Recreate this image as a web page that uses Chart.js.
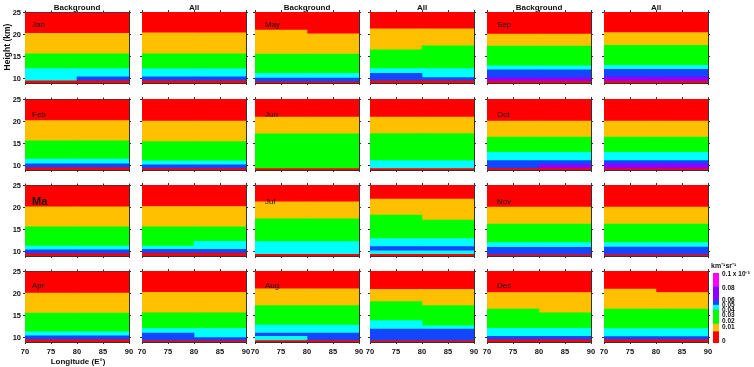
<!DOCTYPE html>
<html>
<head>
<meta charset="utf-8">
<script src="https://cdn.jsdelivr.net/npm/chart.js@4"></script>
<style>
  body { margin: 0; background: #fff; font-family: "Liberation Sans", Arial, sans-serif; }
  #wrap { position: relative; width: 754px; height: 367px; overflow: hidden; }
  canvas { position: absolute; }
  .t { position: absolute; font-weight: bold; white-space: nowrap; color: #111; }
</style>
</head>
<body>
<div id="wrap"></div>
<script>
const xTicks = [70, 75, 80, 85, 90];
const yTicks = [10, 15, 20, 25];
const yMin = 9, yMax = 25;
const halves = ['70-80E', '80-90E'];
const colTitles = ['Background', 'All', 'Background', 'All', 'Background', 'All'];
const rowMonths = [['Jan', 'May', 'Sep'], ['Feb', 'Jun', 'Oct'], ['Ma', 'Jul', 'Nov'], ['Apr', 'Aug', 'Dec']];
const palette = { R: '#ff0000', O: '#ffc000', G: '#00ff00', C: '#00ffff', B: '#1446ff', P: '#8c00ff', M: '#ff00ff' };

// bands from the bottom up: [colour, top west of 80E, top east of 80E] (km)
const janBackground = [['R', 9.5, 9.5], ['B', 9.5, 10.4], ['C', 12.25, 12.25], ['G', 15.6, 15.6], ['O', 20.3, 20.3], ['R', 25, 25]];
const janAll = [['R', 9.5, 9.5], ['B', 10.4, 10.4], ['C', 12.2, 12.2], ['G', 15.6, 15.6], ['O', 20.3, 20.3], ['R', 25, 25]];
const febBackground = [['R', 9.5, 9.5], ['B', 10.4, 10.4], ['C', 11.45, 11.45], ['G', 15.6, 15.6], ['O', 20.2, 20.2], ['R', 25, 25]];
const febAll = [['R', 9.3, 9.3], ['B', 10.15, 10.15], ['C', 11.05, 11.05], ['G', 15.4, 15.4], ['O', 20.0, 20.0], ['R', 25, 25]];
const marBackground = [['R', 9.5, 9.5], ['B', 10.4, 10.4], ['C', 11.25, 11.25], ['G', 15.6, 15.6], ['O', 20.15, 20.15], ['R', 25, 25]];
const marAll = [['R', 9.6, 9.6], ['B', 10.5, 10.5], ['C', 11.25, 12.3], ['G', 15.6, 15.6], ['O', 20.15, 20.15], ['R', 25, 25]];
const aprBackground = [['R', 9.5, 9.5], ['B', 10.4, 10.4], ['C', 11.3, 11.3], ['G', 15.55, 15.55], ['O', 20.1, 20.1], ['R', 25, 25]];
const aprAll = [['R', 9.25, 9.25], ['B', 11.0, 10.0], ['C', 12.05, 12.05], ['G', 15.55, 15.55], ['O', 20.2, 20.2], ['R', 25, 25]];
const mayBackground = [['R', 9.25, 9.25], ['B', 10.1, 10.1], ['C', 11.2, 11.2], ['G', 15.5, 15.5], ['O', 20.95, 20.1], ['R', 25, 25]];
const mayAll = [['R', 9.5, 9.5], ['B', 11.2, 10.2], ['C', 12.25, 12.25], ['G', 16.45, 17.35], ['O', 21.2, 21.2], ['R', 25, 25]];
const junBackground = [['R', 9.3, 9.3], ['G', 17.15, 17.15], ['O', 20.9, 20.9], ['R', 25, 25]];
const junAll = [['R', 9.3, 9.3], ['C', 11.1, 11.1], ['G', 17.2, 17.2], ['O', 20.9, 20.9], ['R', 25, 25]];
const julBackground = [['R', 9.35, 9.35], ['C', 12.25, 12.25], ['G', 17.4, 17.4], ['O', 21.2, 21.2], ['R', 25, 25]];
const julAll = [['R', 9.35, 9.35], ['C', 10.15, 10.15], ['B', 11.1, 11.1], ['C', 12.9, 12.9], ['G', 18.2, 17.1], ['O', 21.8, 21.8], ['R', 25, 25]];
const augBackground = [['R', 9.3, 9.3], ['C', 10.25, 9.3], ['B', 11.0, 11.0], ['C', 12.8, 12.8], ['G', 17.2, 17.2], ['O', 21.0, 21.0], ['R', 25, 25]];
const augAll = [['R', 9.25, 9.25], ['B', 11.9, 11.9], ['C', 13.8, 12.65], ['G', 18.1, 17.2], ['O', 20.85, 20.85], ['R', 25, 25]];
const sepBackground = [['R', 9.4, 9.4], ['P', 10.2, 10.2], ['B', 11.95, 11.95], ['C', 12.85, 12.85], ['G', 17.3, 17.3], ['O', 20.05, 20.05], ['R', 25, 25]];
const sepAll = [['R', 9.4, 9.4], ['P', 10.4, 10.4], ['B', 12.1, 12.1], ['C', 13.0, 13.0], ['G', 17.5, 17.5], ['O', 20.35, 20.35], ['R', 25, 25]];
const octBackground = [['R', 9.3, 9.3], ['P', 9.3, 10.2], ['B', 11.1, 11.1], ['C', 13.0, 13.0], ['G', 16.4, 16.4], ['O', 20.0, 20.0], ['R', 25, 25]];
const octAll = [['R', 9.25, 9.25], ['P', 10.4, 10.4], ['B', 11.1, 11.1], ['C', 13.0, 13.0], ['G', 16.4, 16.4], ['O', 20.0, 20.0], ['R', 25, 25]];
const novBackground = [['R', 9.25, 9.25], ['B', 10.95, 10.95], ['C', 12.0, 12.0], ['G', 16.2, 16.2], ['O', 20.0, 20.0], ['R', 25, 25]];
const novAll = [['R', 9.25, 9.25], ['B', 11.0, 11.0], ['C', 12.0, 12.0], ['G', 16.2, 16.2], ['O', 20.0, 20.0], ['R', 25, 25]];
const decBackground = [['R', 9.5, 9.5], ['B', 10.3, 10.3], ['C', 12.1, 12.1], ['G', 16.4, 15.6], ['O', 20.15, 20.15], ['R', 25, 25]];
const decAll = [['R', 9.5, 9.5], ['B', 10.2, 10.2], ['C', 12.0, 12.0], ['G', 16.4, 16.4], ['O', 20.9, 20.15], ['R', 25, 25]];

const panelBands = [
  [janBackground, janAll, mayBackground, mayAll, sepBackground, sepAll],
  [febBackground, febAll, junBackground, junAll, octBackground, octAll],
  [marBackground, marAll, julBackground, julAll, novBackground, novAll],
  [aprBackground, aprAll, augBackground, augAll, decBackground, decAll]
];

// colour bar: segment colours, segment tops and tick labels along the bar
const colorbarColors = ['R', 'O', 'G', 'C', 'B', 'P', 'M'];
const colorbarTops = [12, 20, 35, 40, 45, 59, 74];
const colorbarTickLabels = ['0', '0.01', '0.02', '0.03', '0.04', '0.05', '0.06', '0.08', '0.1 x 10⁻³'];
const colorbarTickPos = [2, 17, 23, 29, 35, 40, 45, 58, 73];

Chart.defaults.font.family = '"Liberation Sans", Arial, sans-serif';
Chart.defaults.font.weight = 'bold';
Chart.defaults.color = '#111';

const wrap = document.getElementById('wrap');
const colLeft = [25, 142, 255, 370, 487, 604];
const rowTop = [12, 99, 185, 271];
const monthDy = [12, 15, 16, 14];
const W = 104, H = 71;
const L = 26, R = 8, T = 6, B = 20;

function addCanvas(x, y, w, h) {
  const c = document.createElement('canvas');
  c.width = w; c.height = h;
  c.style.left = x + 'px'; c.style.top = y + 'px';
  c.style.width = w + 'px'; c.style.height = h + 'px';
  wrap.appendChild(c);
  return c;
}

function addText(txt, x, y, size, extra) {
  const d = document.createElement('div');
  d.className = 't';
  d.textContent = txt;
  d.style.left = x + 'px'; d.style.top = y + 'px';
  d.style.fontSize = size + 'px';
  if (extra) Object.assign(d.style, extra);
  wrap.appendChild(d);
  return d;
}

function bandDatasets(bands) {
  let prevW = yMin, prevE = yMin;
  return bands.map(([col, topW, topE]) => {
    const ds = {
      data: [topW > prevW ? [prevW, topW] : null, topE > prevE ? [prevE, topE] : null],
      backgroundColor: palette[col]
    };
    prevW = topW; prevE = topE;
    return ds;
  });
}

function edgeAxis(pos, list, min, max, show, size) {
  const horiz = pos === 'top' || pos === 'bottom';
  return {
    type: 'linear', position: pos, min: min, max: max, offset: false,
    grid: { offset: false, drawOnChartArea: false, tickLength: 2, color: '#333' },
    border: { color: '#333', width: 1 },
    ticks: { display: show, autoSkip: false, maxRotation: 0, padding: horiz ? 3 : 2, font: { size: 7.5 } },
    afterBuildTicks(s) { s.ticks = list.map(v => ({ value: v })); },
    afterFit(s) { if (horiz) s.height = size; else s.width = size; }
  };
}

function panel(r, c) {
  const cv = addCanvas(colLeft[c] - L, rowTop[r] - T, W + L + R, H + T + B);
  new Chart(cv, {
    type: 'bar',
    data: { labels: halves, datasets: bandDatasets(panelBands[r][c]) },
    options: {
      responsive: false, animation: false, events: [],
      plugins: { legend: { display: false }, tooltip: { enabled: false } },
      datasets: { bar: { grouped: false, barPercentage: 1, categoryPercentage: 1, borderWidth: 0 } },
      layout: { padding: 0 },
      scales: {
        x: { type: 'category', display: false, offset: true },
        xt: edgeAxis('bottom', xTicks, 70, 90, r === 3, B),
        x2: edgeAxis('top', xTicks, 70, 90, false, T),
        y: edgeAxis('left', yTicks, yMin, yMax, c === 0, L),
        y2: edgeAxis('right', yTicks, yMin, yMax, false, R)
      }
    }
  });
}

for (let r = 0; r < 4; r++) {
  for (let c = 0; c < 6; c++) panel(r, c);
}

// colour bar
const cb = addCanvas(713, 266, 41, 84);
new Chart(cb, {
  type: 'bar',
  data: {
    labels: ['scale'],
    datasets: colorbarColors.map((k, i) => ({
      data: [[i ? colorbarTops[i - 1] : 0, colorbarTops[i]]],
      backgroundColor: palette[k]
    }))
  },
  options: {
    responsive: false, animation: false, events: [],
    plugins: { legend: { display: false }, tooltip: { enabled: false } },
    datasets: { bar: { grouped: false, barPercentage: 1, categoryPercentage: 1, borderWidth: 0 } },
    layout: { padding: { top: 5, bottom: 4 } },
    scales: {
      x: { display: false, offset: true },
      y: {
        position: 'right', min: 0, max: 74,
        grid: { display: false, drawTicks: false }, border: { display: false },
        ticks: {
          autoSkip: false, padding: 3, font: { size: 6.5 },
          callback: v => colorbarTickLabels[colorbarTickPos.indexOf(v)]
        },
        afterBuildTicks(s) { s.ticks = colorbarTickPos.map(v => ({ value: v })); },
        afterFit(s) { s.width = 35; }
      }
    }
  }
});

// texts
colTitles.forEach((t, c) => {
  addText(t, colLeft[c] + W / 2, 7, 8, { transform: 'translate(-50%,-50%)' });
});
rowMonths.forEach((row, r) => {
  row.forEach((m, g) => {
    const big = m === 'Ma';
    addText(m, colLeft[g * 2] + (g === 0 ? 7 : 10), rowTop[r] + monthDy[r], big ? 11 : 8,
      { transform: 'translateY(-50%)', fontWeight: big ? 'bold' : 'normal' });
  });
});
addText('Height (km)', 7, 47, 8.5, { transform: 'translate(-50%,-50%) rotate(-90deg)' });
addText('Longitude (E°)', 78, 361, 8, { transform: 'translate(-50%,-50%)' });
addText('km⁻¹sr⁻¹', 711, 265, 7, { transform: 'translateY(-50%)' });
</script>
</body>
</html>
